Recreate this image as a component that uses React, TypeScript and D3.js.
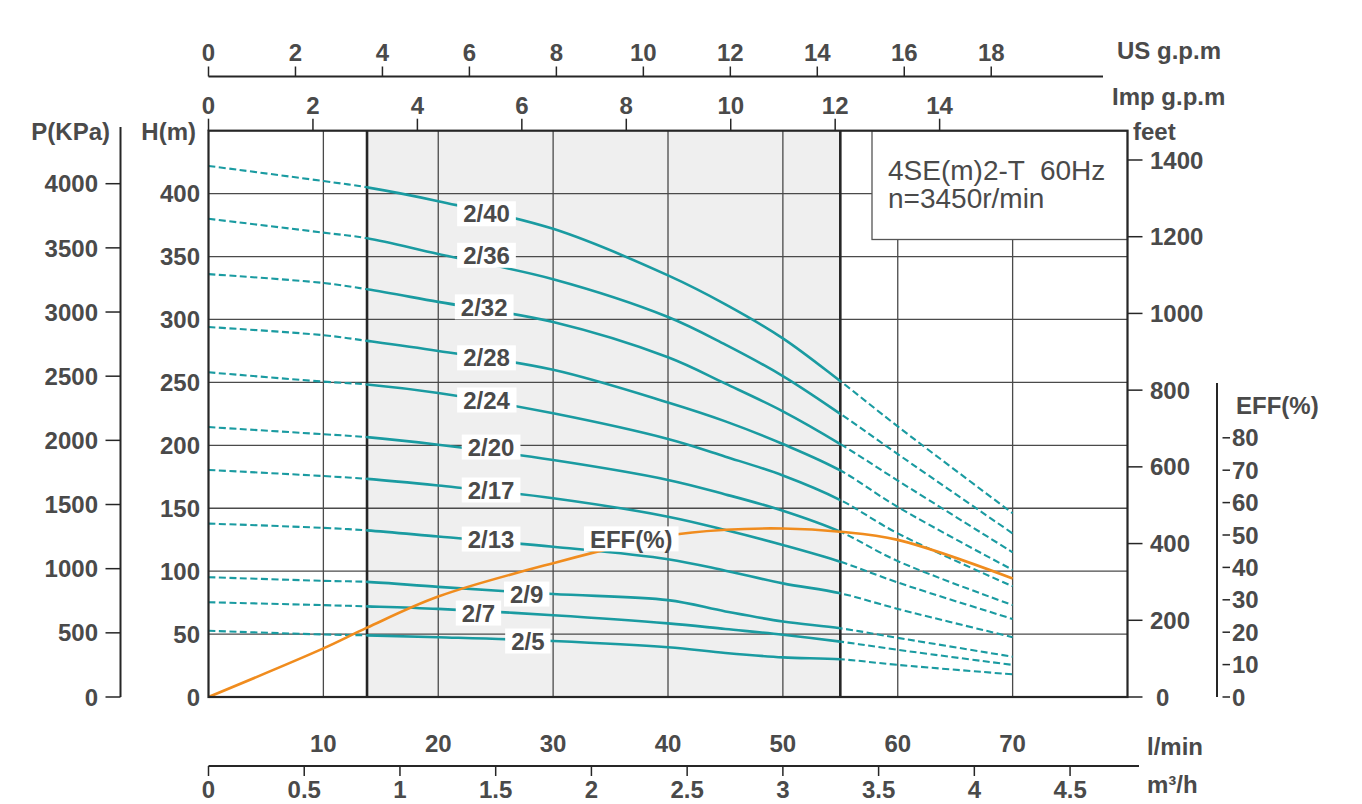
import { useEffect, useRef } from 'react'
import * as d3 from 'd3'

const WIDTH = 1362
const HEIGHT = 804

// flow sample points (l/min) shared by every head curve and the efficiency curve
const FLOW = [0, 10, 13.8, 20, 30, 40, 45, 50, 55, 60, 70]

// head (m) per model at each FLOW point
const HEAD_2_40 = [422, 410, 405, 394, 372, 335, 312, 285, 251, 215, 146]
const HEAD_2_36 = [380, 369, 364.5, 352, 332, 302, 280, 255, 225, 193, 130]
const HEAD_2_32 = [336, 329, 324, 314, 298, 270, 249, 227, 201, 172, 115]
const HEAD_2_28 = [294, 287.5, 283, 275, 260, 234, 219, 201, 180, 151, 101]
const HEAD_2_24 = [258, 250.6, 248.3, 241.5, 225.4, 205, 191, 176, 156.5, 130, 88]
const HEAD_2_20 = [214.5, 208.8, 206.5, 200.5, 188.3, 172.5, 161, 148, 131.3, 108, 73]
const HEAD_2_17 = [180.4, 175.6, 173.3, 168, 158, 143.3, 132.7, 120.8, 107.5, 91, 62]
const HEAD_2_13 = [137.8, 134.4, 132.4, 127.5, 119.4, 109.5, 100.4, 90.3, 82.4, 70, 47.5]
const HEAD_2_9 = [95.2, 92.3, 91.5, 87.5, 81.8, 77, 68, 60, 54.6, 47, 32]
const HEAD_2_7 = [75.3, 73, 72, 70, 65, 58.5, 54, 49.5, 44, 37.5, 25.5]
const HEAD_2_5 = [52.6, 49.7, 49, 47.5, 44.5, 39.5, 35, 31.5, 30, 25.5, 18]

const MODELS = ['2/40', '2/36', '2/32', '2/28', '2/24', '2/20', '2/17', '2/13', '2/9', '2/7', '2/5']
const HEADS = [
  HEAD_2_40, HEAD_2_36, HEAD_2_32, HEAD_2_28, HEAD_2_24, HEAD_2_20,
  HEAD_2_17, HEAD_2_13, HEAD_2_9, HEAD_2_7, HEAD_2_5,
]
// where each model tag sits on its curve (flow l/min, head m)
const TAG_FLOW = [24.2, 24.2, 24.0, 24.2, 24.2, 24.6, 24.6, 24.6, 27.7, 23.5, 27.8]
const TAG_HEAD = [384, 351, 310, 269.5, 236, 198.6, 164.5, 125.5, 81.8, 66.7, 44.5]

// efficiency (%) at each FLOW point
const EFF = [0, 15, 21.4, 31, 41.3, 49.8, 51.6, 52, 51, 48.5, 36.6]
const EFF_TAG_FLOW = 36.8
const EFF_TAG_VALUE = 48.8

// recommended operating range, l/min
const WORK_RANGE = [13.8, 55]

const US_GPM_TICKS = [0, 2, 4, 6, 8, 10, 12, 14, 16, 18]
const IMP_GPM_TICKS = [0, 2, 4, 6, 8, 10, 12, 14]
const LMIN_TICKS = [10, 20, 30, 40, 50, 60, 70]
const M3H_TICKS = [0, 0.5, 1, 1.5, 2, 2.5, 3, 3.5, 4, 4.5]
const H_TICKS = [0, 50, 100, 150, 200, 250, 300, 350, 400]
const KPA_TICKS = [0, 500, 1000, 1500, 2000, 2500, 3000, 3500, 4000]
const FEET_TICKS = [0, 200, 400, 600, 800, 1000, 1200, 1400]
const EFF_TICKS = [0, 10, 20, 30, 40, 50, 60, 70, 80]

const TITLE = '4SE(m)2-T  60Hz'
const SPEED = 'n=3450r/min'

const FONT = "'Liberation Sans', Arial, sans-serif"
const TEXT = '#4a4a4a'
const TEAL = '#1a9ba1'
const ORANGE = '#f08c1e'
const GRID = '#4a4a4a'
const FRAME = '#262626'

export default function App() {
  const svgRef = useRef<SVGSVGElement>(null)

  useEffect(() => {
    if (!svgRef.current) return
    const svg = d3.select(svgRef.current)
    svg.selectAll('*').remove()

    const left = 208.5
    const right = 1127.5
    const bottom = 697
    const top = 130.7

    const x = d3.scaleLinear().domain([0, 80]).range([left, right])
    const y = d3.scaleLinear().domain([0, 450]).range([bottom, top])
    const yKpa = d3.scaleLinear().domain([0, 450 * 9.80665]).range([bottom, top])
    const yFeet = d3.scaleLinear().domain([0, 450 * 3.28084]).range([bottom, top])
    const yEff = d3.scaleLinear().domain([0, 100]).range([bottom, 373])
    const xUs = d3.scaleLinear().domain([0, 80 / 3.78541]).range([left, right])
    const xImp = d3.scaleLinear().domain([0, 80 / 4.54609]).range([left, right])
    const xM3h = d3.scaleLinear().domain([0, 4.8]).range([left, right])

    const label = (
      g: d3.Selection<SVGGElement, unknown, null, undefined>,
      tx: number,
      ty: number,
      text: string,
      anchor = 'middle',
      size = 24,
      weight = 'bold',
    ) =>
      g.append('text')
        .attr('x', tx).attr('y', ty)
        .attr('dy', '0.36em')
        .attr('text-anchor', anchor)
        .attr('font-family', FONT)
        .attr('font-size', size)
        .attr('font-weight', weight)
        .attr('fill', TEXT)
        .style('white-space', 'pre')
        .text(text)

    // clip regions: solid inside the operating range, dashed outside
    const defs = svg.append('defs')
    defs.append('clipPath').attr('id', 'inside')
      .append('rect')
      .attr('x', x(WORK_RANGE[0])).attr('y', 0)
      .attr('width', x(WORK_RANGE[1]) - x(WORK_RANGE[0])).attr('height', HEIGHT)
    const outside = defs.append('clipPath').attr('id', 'outside')
    outside.append('rect')
      .attr('x', 0).attr('y', 0)
      .attr('width', x(WORK_RANGE[0])).attr('height', HEIGHT)
    outside.append('rect')
      .attr('x', x(WORK_RANGE[1])).attr('y', 0)
      .attr('width', WIDTH - x(WORK_RANGE[1])).attr('height', HEIGHT)

    const plot = svg.append('g')

    // shaded operating band
    plot.append('rect')
      .attr('x', x(WORK_RANGE[0])).attr('y', top)
      .attr('width', x(WORK_RANGE[1]) - x(WORK_RANGE[0]))
      .attr('height', bottom - top)
      .attr('fill', '#efefef')

    // grid
    plot.append('g')
      .selectAll('line')
      .data(LMIN_TICKS)
      .join('line')
      .attr('x1', d => x(d)).attr('x2', d => x(d))
      .attr('y1', top).attr('y2', bottom)
      .attr('stroke', GRID).attr('stroke-width', 1.3)
    plot.append('g')
      .selectAll('line')
      .data(H_TICKS.filter(d => d > 0))
      .join('line')
      .attr('x1', left).attr('x2', right)
      .attr('y1', d => y(d)).attr('y2', d => y(d))
      .attr('stroke', GRID).attr('stroke-width', 1.3)
    plot.append('g')
      .selectAll('line')
      .data(WORK_RANGE)
      .join('line')
      .attr('x1', d => x(d)).attr('x2', d => x(d))
      .attr('y1', top).attr('y2', bottom)
      .attr('stroke', FRAME).attr('stroke-width', 2.6)

    // model / speed box
    const boxLeft = 872
    const boxBottom = 239.5
    plot.append('rect')
      .attr('x', boxLeft).attr('y', top)
      .attr('width', right - boxLeft).attr('height', boxBottom - top)
      .attr('fill', '#fff')
      .attr('stroke', '#555').attr('stroke-width', 1.3)
    label(plot, 888, 170, TITLE, 'start', 28, 'normal')
    label(plot, 888, 198, SPEED, 'start', 28, 'normal')

    // head curves
    const headLine = d3.line<number>()
      .x((_, i) => x(FLOW[i]))
      .y(d => y(d))
      .curve(d3.curveCatmullRom.alpha(0.5))

    const curves = plot.append('g').attr('fill', 'none').attr('stroke', TEAL)
    HEADS.forEach(h => {
      curves.append('path')
        .attr('d', headLine(h))
        .attr('clip-path', 'url(#inside)')
        .attr('stroke-width', 2.6)
      curves.append('path')
        .attr('d', headLine(h))
        .attr('clip-path', 'url(#outside)')
        .attr('stroke-width', 2.1)
        .attr('stroke-dasharray', '7 3.5')
    })

    // efficiency curve
    const effLine = d3.line<number>()
      .x((_, i) => x(FLOW[i]))
      .y(d => yEff(d))
      .curve(d3.curveCatmullRom.alpha(0.5))
    plot.append('path')
      .attr('d', effLine(EFF))
      .attr('fill', 'none')
      .attr('stroke', ORANGE)
      .attr('stroke-width', 2.6)

    // curve tags on white patches
    const tags = svg.append('g')
    const tag = (tx: number, ty: number, text: string) => {
      const g = tags.append('g')
      const t = label(g, tx, ty, text, 'middle', 24)
      const bb = (t.node() as SVGTextElement).getBBox()
      g.insert('rect', 'text')
        .attr('x', bb.x - 6).attr('y', ty - 12.5)
        .attr('width', bb.width + 12).attr('height', 25)
        .attr('fill', '#fff')
    }
    MODELS.forEach((m, i) => tag(x(TAG_FLOW[i]), y(TAG_HEAD[i]), m))
    tag(x(EFF_TAG_FLOW), yEff(EFF_TAG_VALUE), 'EFF(%)')

    // frame
    svg.append('rect')
      .attr('x', left).attr('y', top)
      .attr('width', right - left).attr('height', bottom - top)
      .attr('fill', 'none')
      .attr('stroke', FRAME).attr('stroke-width', 2.2)

    const axes = svg.append('g').attr('stroke', FRAME).attr('stroke-width', 1.5)

    // US g.p.m (top)
    const usY = 76.5
    axes.append('line')
      .attr('x1', left).attr('x2', 1103)
      .attr('y1', usY).attr('y2', usY)
      .attr('stroke-width', 2)
    US_GPM_TICKS.forEach(v => {
      axes.append('line')
        .attr('x1', xUs(v)).attr('x2', xUs(v))
        .attr('y1', usY).attr('y2', usY - 10)
      label(svg.append('g'), xUs(v), 52, String(v))
    })
    label(svg.append('g'), 1117, 50, 'US g.p.m', 'start')

    // Imp g.p.m (frame top)
    IMP_GPM_TICKS.forEach(v => {
      axes.append('line')
        .attr('x1', xImp(v)).attr('x2', xImp(v))
        .attr('y1', top).attr('y2', top - 12)
      label(svg.append('g'), xImp(v), 105, String(v))
    })
    label(svg.append('g'), 1112, 96, 'Imp g.p.m', 'start')

    // P(KPa) axis
    const pX = 120.5
    axes.append('line')
      .attr('x1', pX).attr('x2', pX)
      .attr('y1', 127).attr('y2', bottom)
      .attr('stroke-width', 2)
    KPA_TICKS.forEach(v => {
      axes.append('line')
        .attr('x1', pX - 15).attr('x2', pX)
        .attr('y1', yKpa(v)).attr('y2', yKpa(v))
      label(svg.append('g'), 98, yKpa(v), String(v), 'end')
    })
    label(svg.append('g'), 110, 131, 'P(KPa)', 'end')

    // H(m) axis
    H_TICKS.forEach(v => label(svg.append('g'), 200, y(v), String(v), 'end'))
    label(svg.append('g'), 196, 131, 'H(m)', 'end')

    // feet axis
    FEET_TICKS.forEach(v => {
      axes.append('line')
        .attr('x1', right).attr('x2', right + 15)
        .attr('y1', yFeet(v)).attr('y2', yFeet(v))
      label(svg.append('g'), v === 0 ? 1156 : 1150, yFeet(v), String(v), 'start')
    })
    label(svg.append('g'), 1133, 131, 'feet', 'start')

    // EFF(%) axis
    const effX = 1217
    axes.append('line')
      .attr('x1', effX).attr('x2', effX)
      .attr('y1', 383).attr('y2', bottom)
      .attr('stroke-width', 2)
    EFF_TICKS.forEach(v => {
      axes.append('line')
        .attr('x1', effX + 5.5).attr('x2', effX + 13)
        .attr('y1', yEff(v)).attr('y2', yEff(v))
      label(svg.append('g'), 1232, yEff(v), String(v), 'start')
    })
    label(svg.append('g'), 1236, 405, 'EFF(%)', 'start')

    // l/min (bottom)
    LMIN_TICKS.forEach(v => label(svg.append('g'), x(v), 743, String(v)))
    label(svg.append('g'), 1147, 746, 'l/min', 'start')

    // m³/h (bottom)
    const m3Y = 766
    axes.append('line')
      .attr('x1', left).attr('x2', 1139)
      .attr('y1', m3Y).attr('y2', m3Y)
      .attr('stroke-width', 2)
    M3H_TICKS.forEach(v => {
      axes.append('line')
        .attr('x1', xM3h(v)).attr('x2', xM3h(v))
        .attr('y1', m3Y).attr('y2', m3Y + 10)
      label(svg.append('g'), xM3h(v), 789, String(v))
    })
    label(svg.append('g'), 1147, 784, 'm³/h', 'start')
  }, [])

  return (
    <div style={{ position: 'absolute', left: 0, top: 0 }}>
      <svg
        ref={svgRef}
        width={WIDTH}
        height={HEIGHT}
        style={{ display: 'block', background: '#fff' }}
      />
    </div>
  )
}
